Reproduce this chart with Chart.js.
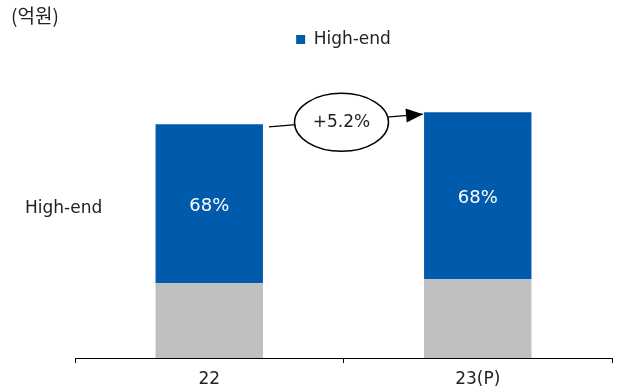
<!DOCTYPE html>
<html>
<head>
<meta charset="utf-8">
<script src="https://cdn.jsdelivr.net/npm/chart.js@4/dist/chart.umd.min.js"></script>
<style>
  html, body { margin: 0; padding: 0; background: #fff; }
  #wrap { width: 617px; height: 392px; position: relative; }
</style>
</head>
<body>
<div id="wrap"><canvas id="c"></canvas></div>
<script>
// Categories and series (억원, relative scale)
const categories = ['22', '23(P)'];
const highEnd = [68.0, 71.5];
const others = [32.0, 33.7];
const unitLabel = '(억원)';
const sideLabel = 'High-end';

const BLUE = '#005BAC';
const GREY = '#BFBFBF';
const TEXT = '#222222';
const LATIN = '"DejaVu Sans", sans-serif';

const totals = categories.map((_, i) => highEnd[i] + others[i]);

const overlay = {
  id: 'overlay',
  afterDatasetsDraw(chart) {
    const ctx = chart.ctx;
    const top = chart.getDatasetMeta(1).data;

    ctx.save();
    // share of high-end inside each blue segment
    ctx.font = '18px ' + LATIN;
    ctx.fillStyle = '#ffffff';
    ctx.textAlign = 'center';
    ctx.textBaseline = 'middle';
    top.forEach((bar, i) => {
      const share = Math.round(highEnd[i] / totals[i] * 100) + '%';
      ctx.fillText(share, bar.x, (bar.y + bar.base) / 2 + 3);
    });

    // unit and side labels
    ctx.fillStyle = TEXT;
    ctx.textAlign = 'left';
    ctx.font = '19px "Noto Sans CJK KR", sans-serif';
    ctx.fillText(unitLabel, 11, 16);
    ctx.font = '17px ' + LATIN;
    ctx.fillText(sideLabel, 25, 209);

    // growth annotation between the two bar tops
    const a = top[0], b = top[1];
    const x0 = a.x + a.width / 2 + 6, y0 = a.y + 2.5;
    const x1 = b.x - b.width / 2 - 1, y1 = b.y + 2;
    ctx.strokeStyle = '#000';
    ctx.fillStyle = '#000';
    ctx.lineWidth = 1.3;
    ctx.beginPath();
    ctx.moveTo(x0, y0);
    ctx.lineTo(x1, y1);
    ctx.stroke();
    // arrow head
    const ang = Math.atan2(y1 - y0, x1 - x0);
    const L = 17, W = 7;
    ctx.beginPath();
    ctx.moveTo(x1, y1);
    ctx.lineTo(x1 - L * Math.cos(ang) + W * Math.sin(ang), y1 - L * Math.sin(ang) - W * Math.cos(ang));
    ctx.lineTo(x1 - L * Math.cos(ang) - W * Math.sin(ang), y1 - L * Math.sin(ang) + W * Math.cos(ang));
    ctx.closePath();
    ctx.fill();
    // ellipse with growth rate
    const cx = (a.x + a.width / 2 + b.x - b.width / 2) / 2 - 2;
    const cy = (a.y + b.y) / 2 + 4;
    ctx.beginPath();
    ctx.ellipse(cx, cy, 47, 29, 0, 0, Math.PI * 2);
    ctx.fillStyle = '#fff';
    ctx.fill();
    ctx.lineWidth = 1.5;
    ctx.stroke();
    const growth = (totals[1] / totals[0] - 1) * 100;
    ctx.fillStyle = TEXT;
    ctx.textAlign = 'center';
    ctx.textBaseline = 'middle';
    ctx.font = '17px ' + LATIN;
    ctx.fillText('+' + growth.toFixed(1) + '%', cx, cy);
    ctx.restore();
  }
};

new Chart(document.getElementById('c'), {
  type: 'bar',
  data: {
    labels: categories,
    datasets: [
      { label: 'Others', data: others, backgroundColor: GREY, borderWidth: 0,
        barPercentage: 0.4, categoryPercentage: 1 },
      { label: 'High-end', data: highEnd, backgroundColor: BLUE, borderWidth: 0,
        barPercentage: 0.4, categoryPercentage: 1 }
    ]
  },
  options: {
    responsive: true,
    maintainAspectRatio: false,
    animation: false,
    layout: { padding: { left: 75, right: 5, top: 21, bottom: -4 } },
    plugins: {
      legend: {
        display: true,
        position: 'top',
        labels: {
          filter: (item) => item.datasetIndex === 1,
          boxWidth: 9, boxHeight: 9, padding: 10,
          color: TEXT,
          font: { family: LATIN, size: 17 }
        }
      },
      tooltip: { enabled: false }
    },
    scales: {
      x: {
        stacked: true,
        grid: { offset: true, drawOnChartArea: false, drawTicks: true, tickLength: 5, color: '#000', lineWidth: 1 },
        border: { display: true, color: '#000', width: 1 },
        ticks: { color: TEXT, padding: 8, font: { family: LATIN, size: 17, lineHeight: 1 } }
      },
      y: {
        stacked: true,
        display: false,
        min: 0,
        max: 128.4
      }
    }
  },
  plugins: [overlay]
});
</script>
</body>
</html>
